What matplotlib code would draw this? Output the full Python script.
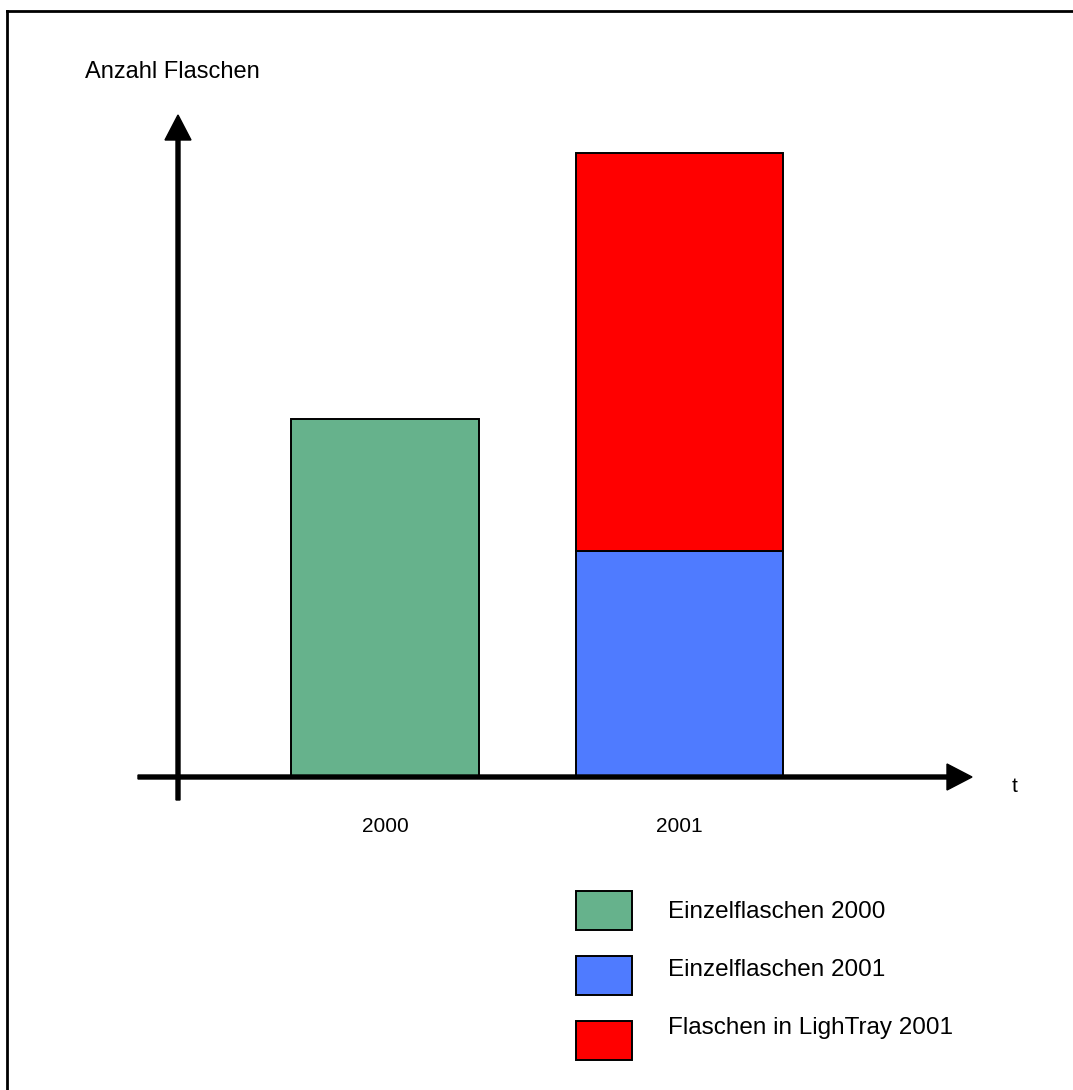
import matplotlib.pyplot as plt
from matplotlib.patches import Rectangle

plt.rcParams['font.family'] = ['Liberation Sans', 'DejaVu Sans']

# data (heights in pixel-ish units above the time axis)
years = ["2000", "2001"]
einzel = [358, 226]          # Einzelflaschen per year
lightray = [0, 398]          # Flaschen in LighTray
bar_x = [385, 679.5]
bar_w = [188, 207]

legend_labels = ["Einzelflaschen 2000", "Einzelflaschen 2001", "Flaschen in LighTray 2001"]
col_green = "#66B28C"
col_blue = "#4F7BFF"
col_red = "#FF0000"
legend_colors = [col_green, col_blue, col_red]

W, H = 1073, 1090
base = 777  # pixel row of the time axis

fig = plt.figure(figsize=(W / 100, H / 100), dpi=100)
ax = fig.add_axes([0, 0, 1, 1])
ax.set_xlim(0, W)
ax.set_ylim(base - H, base)
ax.axis("off")

# bars
ax.bar(bar_x[0], einzel[0], width=bar_w[0], color=col_green, edgecolor="black", linewidth=1.4, zorder=2)
ax.bar(bar_x[1], einzel[1], width=bar_w[1], color=col_blue, edgecolor="black", linewidth=1.4, zorder=2)
ax.bar(bar_x[1], lightray[1], bottom=einzel[1], width=bar_w[1], color=col_red, edgecolor="black",
       linewidth=1.4, zorder=2)

# axes arrows
ax.arrow(138, 0, 972 - 138, 0, width=4, head_width=26, head_length=25,
         length_includes_head=True, color="black", zorder=3)
ax.arrow(178, -23, 0, 662 + 23, width=4, head_width=26, head_length=25,
         length_includes_head=True, color="black", zorder=3)

ax.text(85, base - 72, "Anzahl Flaschen", fontsize=17, va="center", ha="left")
ax.text(1015, base - 787, "t", fontsize=15, va="center", ha="center")
for x, y in zip(bar_x, years):
    ax.text(x, base - 827, y, fontsize=15, va="center", ha="center")

# legend
for i, (lab, c) in enumerate(zip(legend_labels, legend_colors)):
    top = base - 891 - i * 65
    ax.add_patch(Rectangle((576, top - 39), 56, 39, facecolor=c, edgecolor="black", linewidth=1.4))
    ax.text(668, base - 912 - i * 58, lab, fontsize=17.5, va="center", ha="left")

# frame (top and left only)
ax.plot([7, W], [base - 11, base - 11], color="black", linewidth=2)
ax.plot([7, 7], [base - 11, base - H], color="black", linewidth=2)

fig.savefig("out.png", dpi=100)
